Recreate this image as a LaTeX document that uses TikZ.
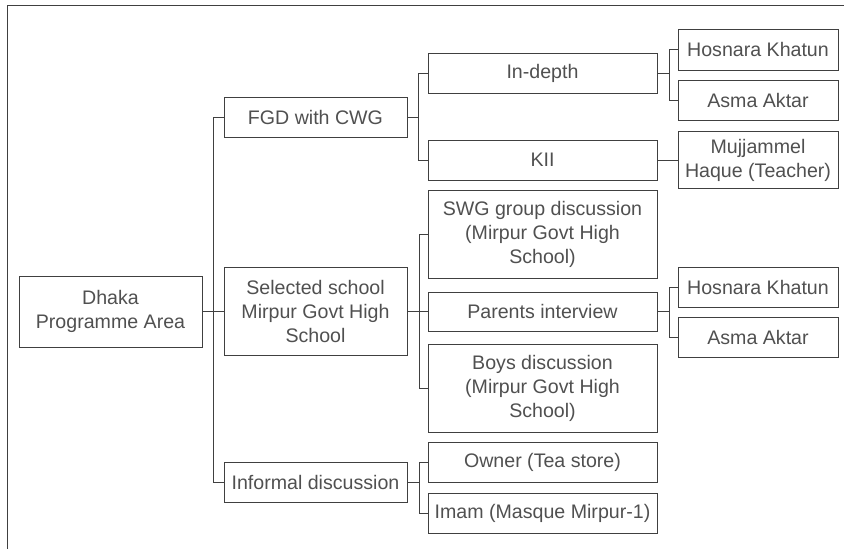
\documentclass[tikz,border=0pt]{standalone}
\usepackage{fontspec}
\setmainfont{Liberation Sans}
\definecolor{txt}{HTML}{505050}
\definecolor{ln}{HTML}{404040}
\begin{document}
\begin{tikzpicture}[x=1pt,y=-1pt,
  box/.style={draw=ln,line width=1pt,rectangle,inner sep=0pt,align=center,text=txt,
    font=\fontsize{19.6}{24}\selectfont},
  conn/.style={draw=ln,line width=1pt},
  wA/.style={minimum width=183pt},
  wB/.style={minimum width=229pt},
  wC/.style={minimum width=160pt}]
\useasboundingbox (0,0) rectangle (844,549);
\draw[conn] (7.5,549) -- (7.5,5) -- (844,5);

\node[box,wA,minimum height=71pt] (dhaka) at (110.5,311.5) {Dhaka\\Programme Area};
\node[box,wA,minimum height=88pt] (sel) at (315.5,311) {Selected school\\Mirpur Govt High\\School};
\node[box,wA,minimum height=40pt] (fgd) at (315.5,117) {FGD with CWG};
\node[box,wA,minimum height=40pt] (inf) at (315.5,482) {Informal discussion};

\node[box,wB,minimum height=40pt] (indepth) at (542.5,73) {In-depth};
\node[box,wB,minimum height=40pt] (kii) at (542.5,160) {KII};
\node[box,wB,minimum height=88pt] (swg) at (542.5,234) {SWG group discussion\\(Mirpur Govt High\\School)};
\node[box,wB,minimum height=39pt] (par) at (542.5,311.5) {Parents interview};
\node[box,wB,minimum height=88pt] (boys) at (542.5,388) {Boys discussion\\(Mirpur Govt High\\School)};
\node[box,wB,minimum height=40pt] (owner) at (542.5,462) {Owner (Tea store)};
\node[box,wB,minimum height=40pt] (imam) at (542.5,513) {Imam (Masque Mirpur-1)};

\node[box,wC,minimum height=41pt] (hk1) at (758,49.5) {Hosnara Khatun};
\node[box,wC,minimum height=40pt] (aa1) at (758,100) {Asma Aktar};
\node[box,wC,minimum height=57pt] (muj) at (758,160) {Mujjammel\\Haque (Teacher)};
\node[box,wC,minimum height=40pt] (hk2) at (758,287) {Hosnara Khatun};
\node[box,wC,minimum height=40pt] (aa2) at (758,337.5) {Asma Aktar};

\foreach \c in {fgd,sel,inf} \draw[conn] (dhaka.east) -- ++(11,0) |- (\c.west);
\foreach \c in {indepth,kii} \draw[conn] (fgd.east) -- ++(11,0) |- (\c.west);
\foreach \c in {swg,par,boys} \draw[conn] (sel.east) -- ++(12,0) |- (\c.west);
\foreach \c in {owner,imam} \draw[conn] (inf.east) -- ++(12,0) |- (\c.west);
\foreach \c in {hk1,aa1} \draw[conn] (indepth.east) -- ++(12,0) |- (\c.west);
\foreach \c in {hk2,aa2} \draw[conn] (par.east) -- ++(12,0) |- (\c.west);
\draw[conn] (kii.east) -- (muj.west);
\end{tikzpicture}
\end{document}
